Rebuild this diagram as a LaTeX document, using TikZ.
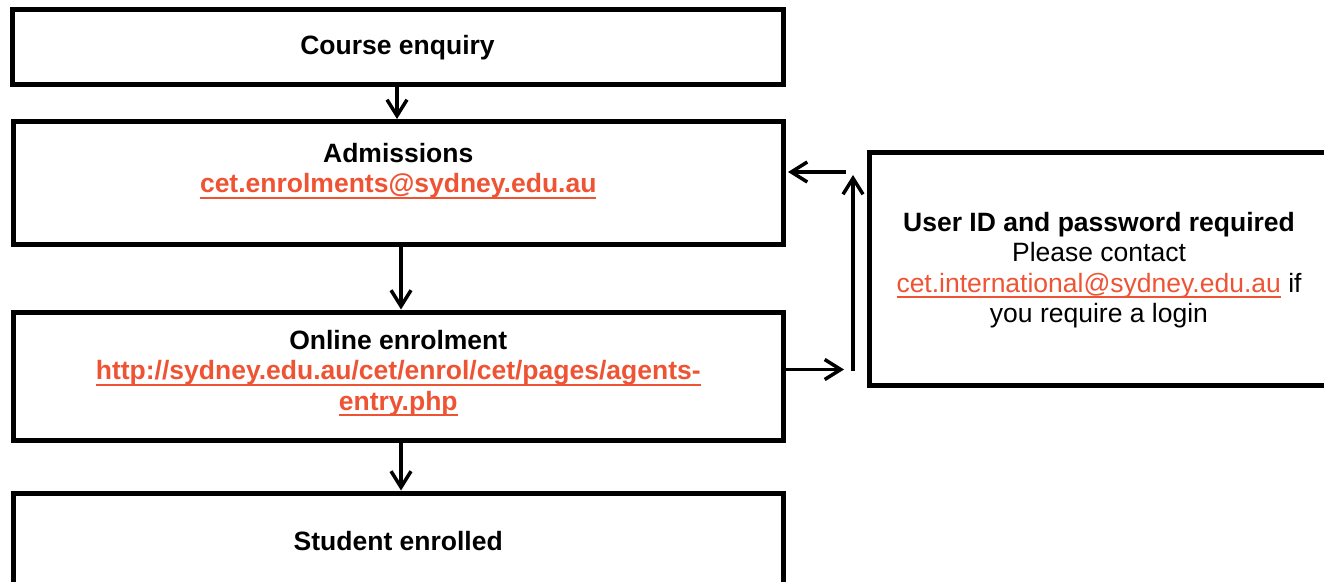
\documentclass[tikz,border=0pt]{standalone}
\usepackage{fontspec}
\setmainfont{Liberation Sans}
\usetikzlibrary{arrows.meta,calc}
\definecolor{linkred}{RGB}{238,84,52}
\newcommand\myul[1]{\setbox0\hbox{#1}\rlap{\rule[-6pt]{\wd0}{2pt}}\box0}
\tikzset{
  box/.style={draw=black, line width=5pt, rectangle, inner sep=0pt},
  txt/.style={align=center, inner sep=0pt, font=\fontsize{26.5}{30.5}\selectfont},
  arr/.style={draw=black, line width=3.5pt, -{Straight Barb[length=16pt,width=20pt]}},
  link/.style={text=linkred}
}
\begin{document}
\begin{tikzpicture}[x=1pt,y=-1pt]
\useasboundingbox (0,0) rectangle (1324,581);
\clip (0,0) rectangle (1324,581);
\fill[white] (0,0) rectangle (1324,581);
% boxes
\node[box, minimum width=771pt, minimum height=75.5pt] (b1) at (397.5,46.75) {};
\node[box, minimum width=769.5pt, minimum height=122.5pt] (b2) at (398.25,182.75) {};
\node[box, minimum width=769.5pt, minimum height=128pt] (b3) at (398.25,376) {};
\node[box, minimum width=769.5pt, minimum height=96pt] (b4) at (398.25,541) {};
\node[box, minimum width=460pt, minimum height=233pt] (r) at (1099,268.5) {};
% texts
\node[txt] (t1) at (397.5,48) {\textbf{Course enquiry}};
\node[txt] (t2) at (398.25,171) {\textbf{Admissions}\\{\color{linkred}\textbf{\myul{cet.enrolments@sydney.edu.au}}}};
\node[txt] (t3) at (398.25,373) {\textbf{Online enrolment}\\{\color{linkred}\textbf{\myul{http://sydney.edu.au/cet/enrol/cet/pages/agents-}}}\\{\color{linkred}\textbf{\myul{entry.php}}}};
\node[txt] (t4) at (398.25,541) {\textbf{Student enrolled}};
\node[txt] (t5) at (1099,270) {\textbf{User ID and password required}\\Please contact\\{\color{linkred}\myul{cet.international@sydney.edu.au}} if\\you require a login};
% vertical arrows
\draw[arr] ($(b1.south)+(-0.5,0)$) -- ($(b2.north)+(-1.25,0)$);
\draw[arr] ($(b2.south)+(2.75,0)$) -- ($(b3.north)+(2.75,0)$);
\draw[arr] ($(b3.south)+(2.75,0)$) -- ($(b4.north)+(2.75,0)$);
% feedback arrows
\coordinate (p1) at (844,369.5);
\coordinate (v1) at (853,371);
\coordinate (v2) at (853,175);
\coordinate (h1) at (846,172);
\draw[arr] (b3.east |- p1) -- (p1);
\draw[arr] (v1) -- (v2);
\draw[arr] (h1) -- ($(b2.east |- h1)+(2.5,0)$);
\end{tikzpicture}
\end{document}
